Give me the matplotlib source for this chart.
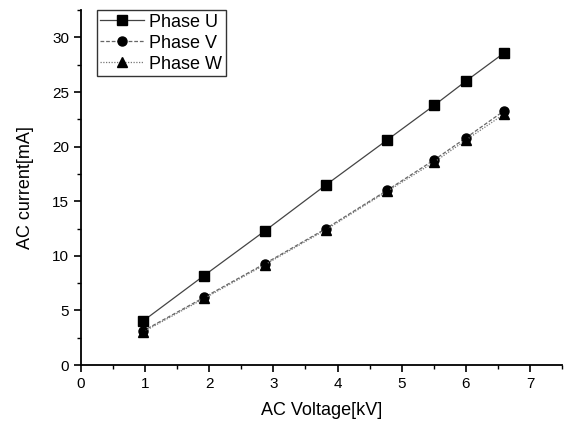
import matplotlib
matplotlib.use("Agg")
import matplotlib.pyplot as plt
from matplotlib.ticker import MultipleLocator

plt.rcParams['font.family'] = ['Liberation Sans', 'DejaVu Sans']

voltage_kv = [0.96, 1.92, 2.87, 3.82, 4.77, 5.51, 6.0, 6.6]
phase_u = [4.0, 8.2, 12.3, 16.5, 20.6, 23.8, 26.0, 28.6]
phase_v = [3.1, 6.2, 9.3, 12.5, 16.0, 18.8, 20.8, 23.3]
phase_w = [3.0, 6.1, 9.2, 12.4, 15.9, 18.6, 20.6, 23.0]

fig = plt.figure(figsize=(5.66, 4.25), dpi=100)
ax = fig.add_axes([0.143, 0.141, 0.850, 0.835])

ax.plot(voltage_kv, phase_u, color='#444444', lw=0.9, ls='-', marker='s', ms=6.5,
        mfc='black', mec='black', label='Phase U')
ax.plot(voltage_kv, phase_v, color='#666666', lw=0.9, ls=(0, (3, 1.5)), marker='o', ms=6.5,
        mfc='black', mec='black', label='Phase V')
ax.plot(voltage_kv, phase_w, color='#777777', lw=0.9, ls=(0, (1, 1.2)), marker='^', ms=7,
        mfc='black', mec='black', label='Phase W')

ax.set_xlim(0, 7.5)
ax.set_ylim(0, 32.5)
ax.xaxis.set_major_locator(MultipleLocator(1))
ax.xaxis.set_minor_locator(MultipleLocator(0.5))
ax.yaxis.set_major_locator(MultipleLocator(5))
ax.yaxis.set_minor_locator(MultipleLocator(2.5))
ax.tick_params(which='major', direction='out', length=5, width=1.2, labelsize=11)
ax.tick_params(which='minor', direction='out', length=3, width=1.0)
for s in ['top', 'right']:
    ax.spines[s].set_visible(False)
for s in ['left', 'bottom']:
    ax.spines[s].set_linewidth(1.3)

ax.set_xlabel('AC Voltage[kV]', fontsize=13, labelpad=8)
ax.set_ylabel('AC current[mA]', fontsize=13, labelpad=13)

leg = ax.legend(loc='upper left', bbox_to_anchor=(0.033, 1.0), fontsize=13, frameon=True,
                fancybox=False, edgecolor='black', handlelength=2.4, borderpad=0.2,
                labelspacing=0.22, handletextpad=0.3, borderaxespad=0.0)
leg.get_frame().set_linewidth(1.0)

fig.savefig('out.png', dpi=100)
